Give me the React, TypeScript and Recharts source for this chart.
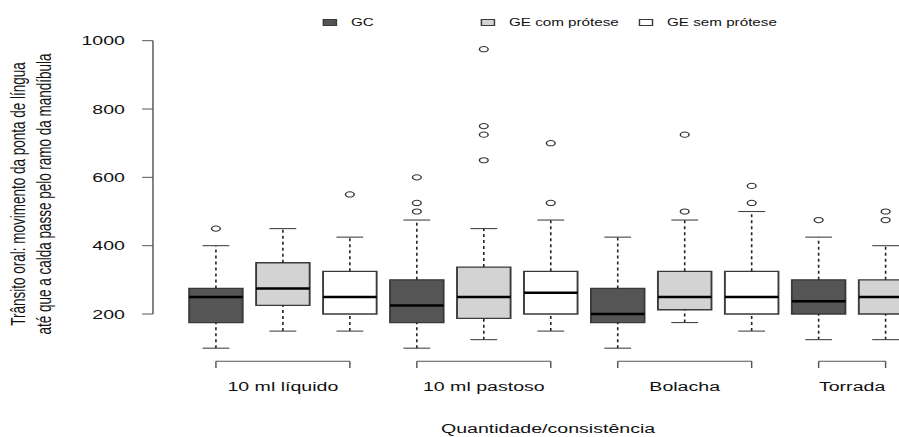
import React from 'react';
import {
  ComposedChart,
  XAxis,
  YAxis,
  ReferenceArea,
  ReferenceLine,
  Scatter,
  Customized,
} from 'recharts';

// ---------- data ----------
const groups = ['10 ml líquido', '10 ml pastoso', 'Bolacha', 'Torrada'];
const seriesNames = ['GC', 'GE com prótese', 'GE sem prótese'];
const yTicks = [200, 400, 600, 800, 1000];

// [min whisker, Q1, median, Q3, max whisker] per group (null = no box)
const gcBoxes = [
  [100, 175, 250, 275, 400],
  [100, 175, 225, 300, 475],
  [100, 175, 200, 275, 425],
  [125, 200, 237.5, 300, 425],
];
const gecBoxes = [
  [150, 225, 275, 350, 450],
  [125, 187.5, 250, 337.5, 450],
  [175, 212.5, 250, 325, 475],
  [125, 200, 250, 300, 400],
];
const gesBoxes = [
  [150, 200, 250, 325, 425],
  [150, 200, 262.5, 325, 475],
  [150, 200, 250, 325, 500],
  null,
];

const gcOutliers = [[450], [600, 525, 500], [], [475]];
const gecOutliers = [[], [975, 750, 725, 650], [725, 500], [500, 475]];
const gesOutliers = [[550], [700, 525], [575, 525], []];

// ---------- styles ----------
const seriesFill = ['#555555', '#d3d3d3', '#ffffff'];
const FONT = '"Liberation Sans", Arial, Helvetica, sans-serif';
const TEXT = '#111111';
const AXIS = '#555555';
const BORDER = '#3a3a3a';
const X_DOMAIN = [0.06, 11.2];
const Y_DOMAIN = [25, 1050];
const BOX_HALF = 0.4;
const CAP_HALF = 0.2;
const BRACKET_Y = 62;
const BRACKET_LEG = 42;

// ---------- derived ----------
const seriesBoxes = [gcBoxes, gecBoxes, gesBoxes];
const seriesOutliers = [gcOutliers, gecOutliers, gesOutliers];

type Box = { pos: number; si: number; gi: number; min: number; q1: number; med: number; q3: number; max: number };
const boxes: Box[] = [];
const outlierPoints: { x: number; y: number }[] = [];
groups.forEach((_, gi) => {
  seriesNames.forEach((__, si) => {
    const b = seriesBoxes[si][gi];
    if (!b) return;
    const pos = gi * 3 + si + 1;
    boxes.push({ pos, si, gi, min: b[0], q1: b[1], med: b[2], q3: b[3], max: b[4] });
    seriesOutliers[si][gi].forEach((v) => outlierPoints.push({ x: pos, y: v }));
  });
});

const groupRanges = groups.map((name, gi) => {
  const ps = boxes.filter((b) => b.gi === gi).map((b) => b.pos);
  const lo = Math.min(...ps);
  const hi = Math.max(...ps);
  return { name, lo, hi, center: (lo + hi) / 2 };
});
const groupCenters = groupRanges.map((g) => g.center);

const OutlierShape = (props: any) => {
  const { cx, cy } = props;
  if (cx == null || cy == null) return null;
  return <ellipse cx={cx} cy={cy} rx={3} ry={2.6} fill="none" stroke="#333" strokeWidth={1} />;
};

const Decorations = () => (
  <g style={{ fontFamily: FONT }}>
    {/* legend */}
    {seriesNames.map((s, i) => (
      <g key={s}>
        <rect x={223 + 109 * i} y={19.5} width={9} height={6} fill={seriesFill[i]} stroke={BORDER} strokeWidth={1} />
        <text x={242 + 109 * i} y={26.5} fontSize={10.5} fill={TEXT}>
          {s}
        </text>
      </g>
    ))}
    {/* y title */}
    <text transform="translate(17,194) rotate(-90)" textAnchor="middle" fontSize={13.5} fill={TEXT}>
      Trânsito oral: movimento da ponta de língua
    </text>
    <text transform="translate(35.3,194) rotate(-90)" textAnchor="middle" fontSize={13.5} fill={TEXT}>
      até que a calda passe pelo ramo da mandíbula
    </text>
    {/* x title */}
    <text x={378} y={433} textAnchor="middle" fontSize={13.5} fill={TEXT}>
      Quantidade/consistência
    </text>
  </g>
);

export default function App() {
  return (
    <div style={{ position: 'absolute', left: 0, top: 0, width: 899, height: 437, overflow: 'hidden', background: '#fff', fontFamily: FONT }}>
      <div style={{ width: 620, height: 437, transform: 'scaleX(1.45)', transformOrigin: '0 0' }}>
        <ComposedChart width={620} height={437} margin={{ top: 23.6, right: 0, bottom: 33.2, left: 0 }}>
          <XAxis
            dataKey="x"
            type="number"
            domain={X_DOMAIN}
            allowDataOverflow
            ticks={groupCenters}
            interval={0}
            tickFormatter={(v: number) => {
              const g = groupRanges.find((r) => Math.abs(r.center - v) < 1e-6);
              return g ? g.name : '';
            }}
            axisLine={false}
            tickLine={false}
            tickSize={0}
            tickMargin={8}
            height={30}
            tick={{ fontSize: 13.5, fill: TEXT, fontFamily: FONT }}
          />
          <YAxis
            dataKey="y"
            type="number"
            domain={Y_DOMAIN}
            allowDataOverflow
            ticks={yTicks}
            interval={0}
            width={105.5}
            axisLine={false}
            tickLine={{ stroke: AXIS, strokeWidth: 1 }}
            tickSize={7.5}
            tickMargin={11.8}
            tick={{ fontSize: 13.5, fill: TEXT, fontFamily: FONT }}
          />
          {/* y axis line spanning tick range */}
          <ReferenceLine
            segment={[{ x: X_DOMAIN[0], y: yTicks[0] }, { x: X_DOMAIN[0], y: yTicks[yTicks.length - 1] }]}
            stroke={AXIS}
            strokeWidth={1}
            ifOverflow="visible"
          />
          {/* group brackets */}
          {groupRanges.map((g) => (
            <ReferenceLine key={'bh' + g.name} segment={[{ x: g.lo, y: BRACKET_Y }, { x: g.hi, y: BRACKET_Y }]} stroke={AXIS} strokeWidth={1} ifOverflow="visible" />
          ))}
          {groupRanges.map((g) => (
            <ReferenceLine key={'bl' + g.name} segment={[{ x: g.lo, y: BRACKET_Y }, { x: g.lo, y: BRACKET_LEG }]} stroke={AXIS} strokeWidth={1} ifOverflow="visible" />
          ))}
          {groupRanges.map((g) => (
            <ReferenceLine key={'br' + g.name} segment={[{ x: g.hi, y: BRACKET_Y }, { x: g.hi, y: BRACKET_LEG }]} stroke={AXIS} strokeWidth={1} ifOverflow="visible" />
          ))}
          {/* whiskers */}
          {boxes.map((b) => (
            <ReferenceLine key={'wl' + b.pos} segment={[{ x: b.pos, y: b.min }, { x: b.pos, y: b.q1 }]} stroke="#222" strokeWidth={1.1} strokeDasharray="3 3" ifOverflow="visible" />
          ))}
          {boxes.map((b) => (
            <ReferenceLine key={'wu' + b.pos} segment={[{ x: b.pos, y: b.q3 }, { x: b.pos, y: b.max }]} stroke="#222" strokeWidth={1.1} strokeDasharray="3 3" ifOverflow="visible" />
          ))}
          {boxes.map((b) => (
            <ReferenceLine key={'cl' + b.pos} segment={[{ x: b.pos - CAP_HALF, y: b.min }, { x: b.pos + CAP_HALF, y: b.min }]} stroke="#444" strokeWidth={1.1} ifOverflow="visible" />
          ))}
          {boxes.map((b) => (
            <ReferenceLine key={'cu' + b.pos} segment={[{ x: b.pos - CAP_HALF, y: b.max }, { x: b.pos + CAP_HALF, y: b.max }]} stroke="#444" strokeWidth={1.1} ifOverflow="visible" />
          ))}
          {/* boxes */}
          {boxes.map((b) => (
            <ReferenceArea
              key={'bx' + b.pos}
              x1={b.pos - BOX_HALF}
              x2={b.pos + BOX_HALF}
              y1={b.q1}
              y2={b.q3}
              fill={seriesFill[b.si]}
              fillOpacity={1}
              stroke={BORDER}
              strokeWidth={1.3}
              ifOverflow="visible"
            />
          ))}
          {/* medians */}
          {boxes.map((b) => (
            <ReferenceLine key={'md' + b.pos} segment={[{ x: b.pos - BOX_HALF, y: b.med }, { x: b.pos + BOX_HALF, y: b.med }]} stroke="#000" strokeWidth={2.5} ifOverflow="visible" />
          ))}
          <Scatter data={outlierPoints} dataKey="y" isAnimationActive={false} shape={OutlierShape} />
          <Customized component={Decorations} />
        </ComposedChart>
      </div>
    </div>
  );
}
